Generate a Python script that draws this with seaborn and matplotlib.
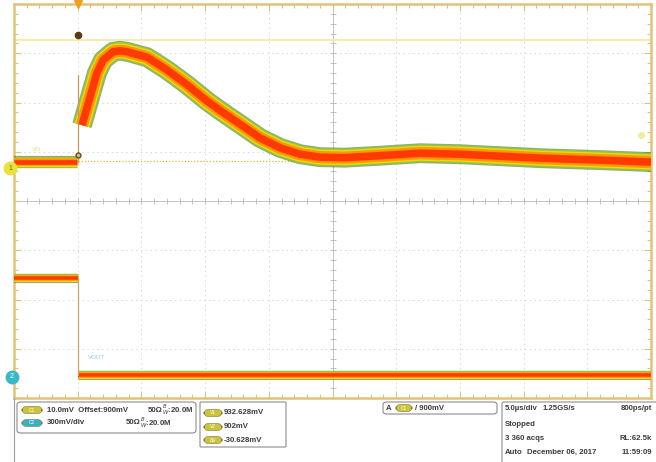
import numpy as np
import pandas as pd
import matplotlib
matplotlib.use('Agg')
import matplotlib.pyplot as plt
import seaborn as sns
from matplotlib.patches import FancyBboxPatch
from matplotlib.lines import Line2D

# channel 1 : 10 mV/div, offset 900 mV
ch1_time_us = [-5.0, -0.05, 0.34, 0.97, 1.51, 1.99, 2.77, 3.32, 3.87, 5.44, 7.01,
               8.58, 10.15, 11.33, 12.74, 14.31, 15.88, 17.45, 19.02, 20.98, 23.73,
               26.87, 30.01, 33.15, 36.29, 41.00, 45.0]
ch1_mv = [907.9, 907.9, 915.4, 921.1, 926.0, 928.6, 930.3, 930.5, 930.3, 929.2, 926.6,
          923.6, 920.3, 918.1, 915.6, 912.8, 910.8, 909.5, 908.9, 908.8, 909.2,
          909.7, 909.5, 909.1, 908.7, 908.3, 907.9]
ch1_spike_mv = [907.9, 925.6]
ch1_level_mv = 908.1

# channel 2 : 300 mV/div
ch2_time_us = [-5.0, 0.0, 0.0, 45.0]
ch2_mv = [600, 600, 12, 12]

cursor_v1_mv = 932.628

# scope settings
ch1_offset, ch1_scale = 900.0, 10.0
ch2_scale, ch2_pos = 300.0, -3.57
ch1_marker_pos = 0.67

sns.set_theme(style="white")
plt.rcParams['font.family'] = ['Liberation Sans', 'DejaVu Sans']

W, H = 656, 462
fig = plt.figure(figsize=(W / 100, H / 100), dpi=100)
ax = fig.add_axes([14 / W, 1 - 398 / H, 637 / W, 394 / H])
ax.set_xlim(-5, 45)
ax.set_ylim(-4, 4)
ax.set_facecolor('white')

# graticule
grid_c = '#d8d8d8'
for xv in np.arange(0, 45, 5):
    if xv != 20:
        ax.axvline(xv, color=grid_c, lw=0.7, ls=(0, (1.5, 3.5)), zorder=0)
for yv in range(-3, 4):
    if yv != 0:
        ax.axhline(yv, color=grid_c, lw=0.7, ls=(0, (1.5, 3.5)), zorder=0)
ax.axvline(20, color='#c2c2c2', lw=0.7, zorder=0)
ax.axhline(0, color='#c2c2c2', lw=0.7, zorder=0)
mt = np.arange(-5, 45.01, 1.0)
ax.plot(mt, np.zeros_like(mt), ls='none', marker='|', ms=4, mew=0.6, color='#b8b8b8', zorder=0)
my = np.arange(-4, 4.01, 0.2)
ax.plot(np.full_like(my, 20), my, ls='none', marker='_', ms=4, mew=0.6, color='#b8b8b8', zorder=0)

tan = '#e2c27a'
for s in ax.spines.values():
    s.set_color(tan)
    s.set_linewidth(1.8)
ax.set_xticks(np.arange(-5, 45.01, 5))
ax.set_xticks(np.arange(-5, 45.01, 1), minor=True)
ax.set_yticks(np.arange(-4, 4.01, 1))
ax.set_yticks(np.arange(-4, 4.01, 0.2), minor=True)
ax.tick_params(which='both', direction='in', top=True, right=True, bottom=True, left=True,
               labelbottom=False, labelleft=False, color=tan, width=0.8)
ax.tick_params(which='major', length=5)
ax.tick_params(which='minor', length=3)
ax.set_xlabel('')
ax.set_ylabel('')

# cursors
ax.axhline((cursor_v1_mv - ch1_offset) / ch1_scale, color='#f6eba8', lw=1.3, zorder=1)
ax.plot([0, 45], [(ch1_level_mv - ch1_offset) / ch1_scale] * 2, color='#d2bc3a',
        lw=0.9, ls=(0, (1, 1.5)), zorder=1)

# traces (persistence band drawn as stacked strokes)
df1 = pd.DataFrame({'t': ch1_time_us, 'div': (np.array(ch1_mv) - ch1_offset) / ch1_scale})
df2 = pd.DataFrame({'t': ch2_time_us, 'div': np.array(ch2_mv) / ch2_scale + ch2_pos})
segments = [(df1.iloc[:2], 8.0), (df1.iloc[2:], 13.0),
            (df2.iloc[:2], 6.0), (df2.iloc[2:], 6.0)]
layers = [('#2f4a18', 1.1, 0.5), ('#8fc838', 1.0, 1.0), ('#e8da12', 0.84, 1.0),
          ('#ff9800', 0.68, 1.0), ('#ff3a00', 0.42, 1.0)]
for color, frac, a in layers:
    for seg, width in segments:
        sns.lineplot(data=seg, x='t', y='div', color=color, lw=width * frac, alpha=a,
                     estimator=None, sort=False, ax=ax, zorder=3,
                     solid_joinstyle='round', solid_capstyle='butt')

# edges at trigger
spike = (np.array(ch1_spike_mv) - ch1_offset) / ch1_scale
ax.plot([0.02, 0.02], spike, color='#c89858', lw=0.9, zorder=4)
ax.plot([0.0, 0.0], df2['div'].iloc[1:3], color='#c8a468', lw=0.9, zorder=4)

# markers
ax.plot(0, 4, marker='v', color='#f0a020', ms=6, clip_on=False, zorder=6)
ax.plot(0, 3.37, marker='o', color='#5a3c14', ms=4.5, zorder=6)
ax.plot(0, 0.93, marker='o', mfc='#d8c070', mec='#5a4a20', ms=3.5, zorder=6)
ax.plot(44.2, 1.33, marker='o', color='#f2ec9a', ms=4, zorder=6)
ax.text(-3.6, 1.05, 'VIN', color='#ece078', fontsize=4, va='center')
ax.text(0.8, -3.17, 'VOUT', color='#86d6ea', fontsize=4.5, va='center')
ax.plot(-5.3, ch1_marker_pos, marker='o', color='#e8e23a', ms=9, clip_on=False, zorder=7)
ax.text(-5.3, ch1_marker_pos, '1', color='#6a6a20', fontsize=5, ha='center', va='center', zorder=8)
ax.plot(-5.15, ch2_pos, marker='o', color='#38b8c8', ms=9, clip_on=False, zorder=7)
ax.text(-5.15, ch2_pos, '2', color='white', fontsize=5, ha='center', va='center', zorder=8)

# ---- readout panel ----
def fx(x):
    return x / W

def fy(y):
    return 1 - y / H

def box(x0, y0, x1, y1, rs=0.006):
    fig.patches.append(FancyBboxPatch((fx(x0), fy(y1)), (x1 - x0) / W, (y1 - y0) / H,
                                      boxstyle=f'round,pad=0,rounding_size={rs}',
                                      transform=fig.transFigure, fc='white', ec='#8c8c8c', lw=0.8))

def pill(x, y, label, color, w=20):
    fig.patches.append(FancyBboxPatch((fx(x), fy(y + 3.5)), w / W, 7 / H,
                                      boxstyle='round,pad=0,rounding_size=0.007',
                                      mutation_aspect=W / H,
                                      transform=fig.transFigure, fc=color, ec='#7a7a40', lw=0.4))
    fig.text(fx(x + w / 2), fy(y), label, fontsize=3.5, color='white', ha='center', va='center')

def txt(x, y, s, **kw):
    fig.text(fx(x), fy(y), s, fontsize=5.6, color='#3c3c3c', fontweight='bold',
             ha=kw.pop('ha', 'left'), va='center', **kw)

fig.lines.append(Line2D([fx(14), fx(14)], [fy(398), 0], transform=fig.transFigure, color='#9a9a9a', lw=0.8))

yel, cyan = '#cbc43a', '#36b2c6'
box(17, 402, 196, 433)
pill(22, 410, 'C1', yel)
txt(47, 410, '10.0mV  Offset:900mV')
txt(148, 410, '50Ω')
txt(162, 410, r'$^{B}_{W}$:20.0M')
pill(22, 423, 'C2', cyan)
txt(47, 423, '300mV/div')
txt(126, 423, '50Ω')
txt(140, 423, r'$^{B}_{W}$:20.0M')

box(200, 402, 286, 447, rs=0.002)
pill(204, 413, 'V1', yel, w=18)
txt(224, 413, '932.628mV')
pill(204, 427, 'V2', yel, w=18)
txt(224, 427, '902mV')
pill(204, 440, 'ΔV', yel, w=18)
txt(224, 440, '-30.628mV')

box(383, 402, 497, 414)
txt(386, 408, 'A')
pill(396, 408, 'C1', yel, w=16)
txt(415, 408, '/ 900mV')

box(502, 402, 660, 466, rs=0.004)
txt(505, 409, '5.0µs/div')
txt(543, 409, '1.25GS/s')
txt(652, 409, '800ps/pt', ha='right')
txt(505, 425, 'Stopped')
txt(505, 438, '3 360 acqs')
txt(652, 438, 'RL:62.5k', ha='right')
txt(505, 452, 'Auto')
txt(527, 452, 'December 06, 2017')
txt(652, 452, '11:59:09', ha='right')

fig.savefig('out.png', dpi=100)
